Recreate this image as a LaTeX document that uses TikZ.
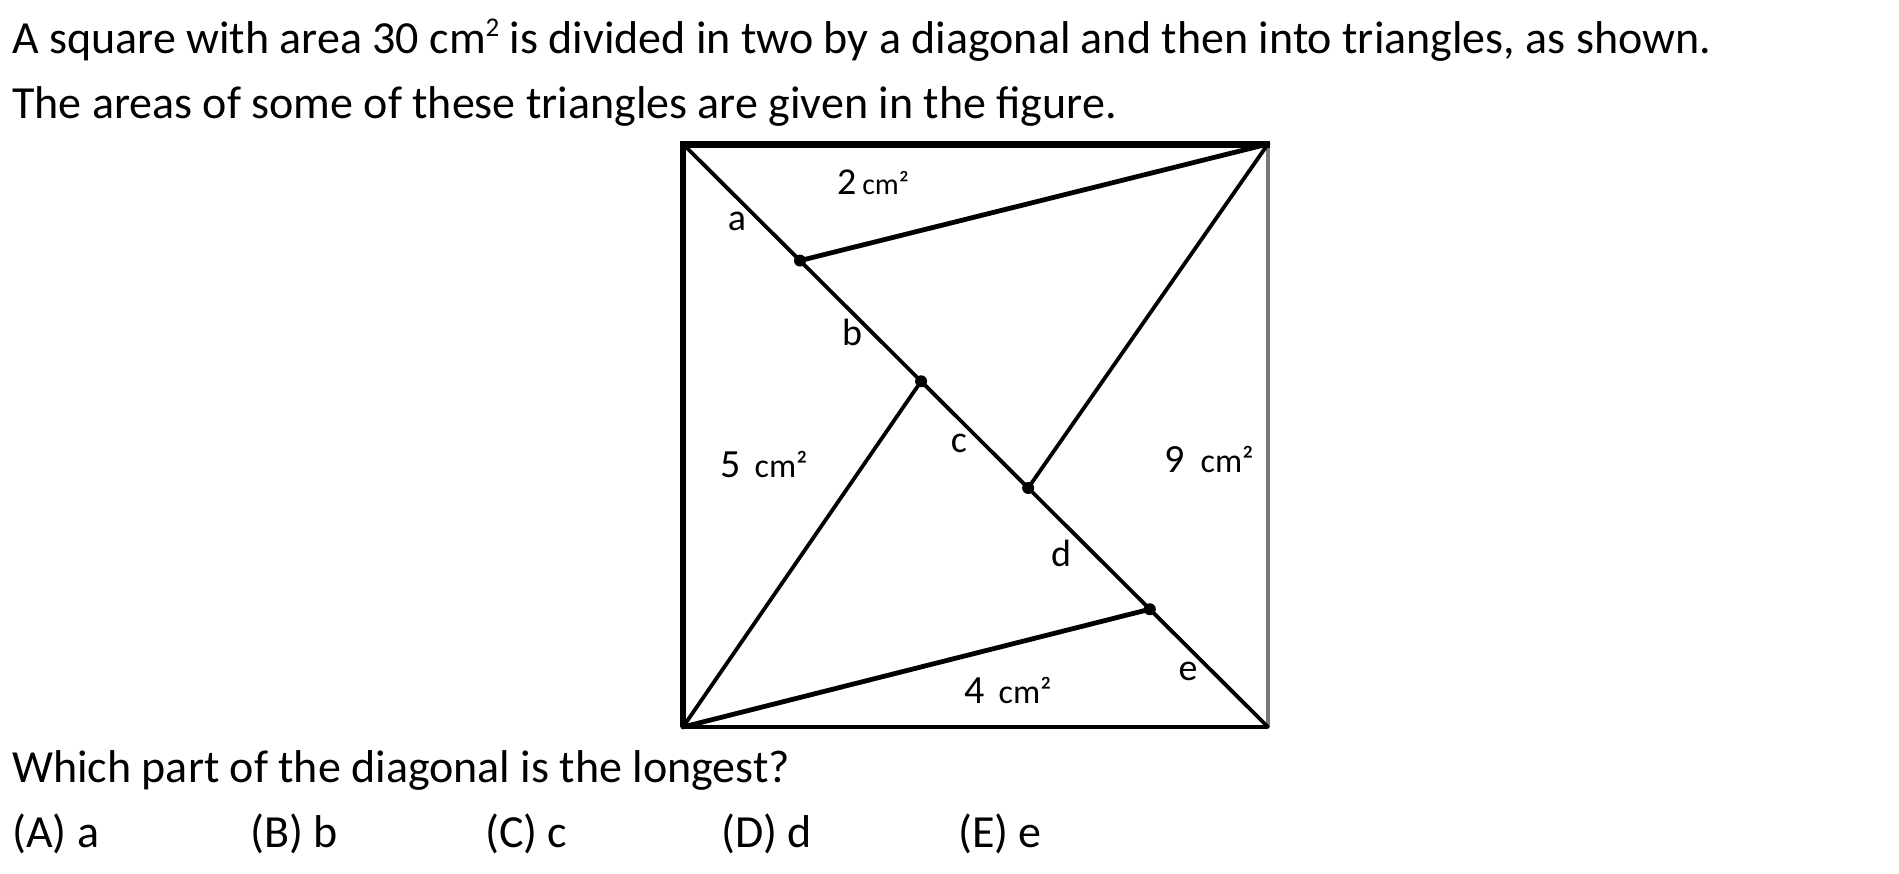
\documentclass[tikz,border=0pt]{standalone}
\usepackage{fontspec}
\setmainfont{Carlito}
\usetikzlibrary{calc}
\definecolor{edgegray}{RGB}{120,120,120}
\begin{document}
\begin{tikzpicture}[x=1bp,y=-1bp,
  qtext/.style={anchor=base west,inner sep=0pt,font=\fontsize{46bp}{52bp}\selectfont},
  arealbl/.style={anchor=base,inner sep=0pt,font=\fontsize{40bp}{44bp}\selectfont},
  seglbl/.style={anchor=base,inner sep=0pt,font=\fontsize{38bp}{40bp}\selectfont},
  thin line/.style={line width=3.8bp,line cap=round},
  thick line/.style={line width=4.8bp,line cap=round},
  joint/.style={circle,fill=black,inner sep=0pt,minimum size=12bp}
]
\useasboundingbox (0,0) rectangle (1899,874);
\newcommand{\smallcm}[1]{{\fontsize{#1}{#1}\selectfont cm²}}
\newcommand{\supertwo}{\raisebox{0.36em}{\fontsize{27bp}{27bp}\selectfont 2}}
% corners
\coordinate (TL) at (683,144);
\coordinate (TR) at (1268,144);
\coordinate (BL) at (683,727);
\coordinate (BR) at (1268,727);
% points on the diagonal
\coordinate (P1) at ($(TL)!0.200!(BR)$);
\coordinate (P2) at ($(TL)!0.407!(BR)$);
\coordinate (P3) at ($(TL)!0.590!(BR)$);
\coordinate (P4) at ($(TL)!0.798!(BR)$);
% square
\draw[edgegray,line width=3.5bp] (TR) -- (BR);
\draw[line width=3.8bp] (BL) -- (BR);
\draw[line width=5.5bp] (BL) -- (TL);
\draw[line width=7bp] ($(TL)+(-2.75,0)$) -- ($(TR)+(1.75,0)$);
% diagonal
\draw[thin line] (TL) -- (BR);
% inner segments
\draw[thick line] (TR) -- (P1);
\draw[thin line] (TR) -- (P3);
\draw[thin line] (BL) -- (P2);
\draw[thick line] (BL) -- (P4);
% joints
\node[joint] (J1) at (P1) {};
\node[joint] (J2) at (P2) {};
\node[joint] (J3) at (P3) {};
\node[joint] (J4) at (P4) {};
% area labels
\node[arealbl] (A2) at (873,194) {{\fontsize{38bp}{40bp}\selectfont 2}\kern6bp\smallcm{30bp}};
\node[arealbl] (A5) at (764,477) {5\kern14bp\smallcm{34bp}};
\node[arealbl] (A9) at (1209,472) {9\kern16bp\smallcm{34bp}};
\node[arealbl] (A4) at (1008,703) {4\kern14bp\smallcm{34bp}};
% segment labels
\node[seglbl] (la) at (737,230) {a};
\node[seglbl] (lb) at (852,345) {b};
\node[seglbl] (lc) at (959,452) {c};
\node[seglbl] (ld) at (1061,566) {d};
\node[seglbl] (le) at (1188,680) {e};
% question text
\node[qtext] (q1) at (12,53) {A square with area 30 cm\supertwo{} is divided in two by a diagonal and then into triangles, as shown.};
\node[qtext] (q2) at (12,118) {The areas of some of these triangles are given in the figure.};
\node[qtext] (q3) at (12,782) {Which part of the diagonal is the longest?};
\node[qtext] (oA) at (12,847) {(A) a};
\node[qtext] (oB) at (250,847) {(B) b};
\node[qtext] (oC) at (485,847) {(C) c};
\node[qtext] (oD) at (721,847) {(D) d};
\node[qtext] (oE) at (958,847) {(E) e};
\end{tikzpicture}
\end{document}
